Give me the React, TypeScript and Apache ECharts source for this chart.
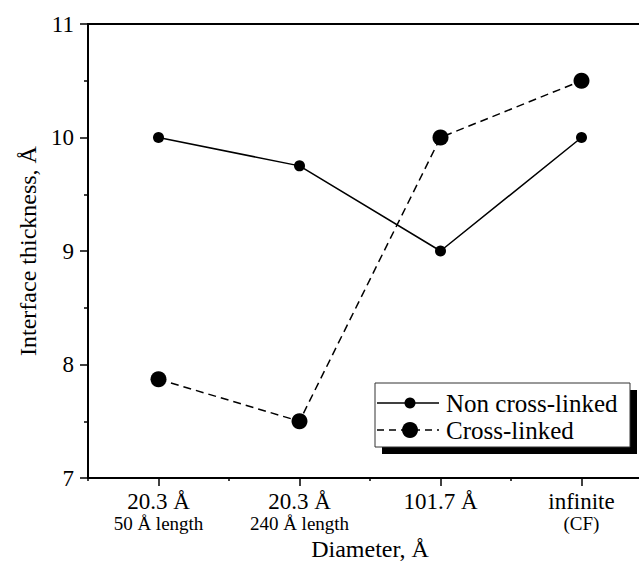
import React, { useEffect, useRef } from "react";
import * as echarts from "echarts";

const categoryMain = ["20.3 Å", "20.3 Å", "101.7 Å", "infinite"];
const categorySub = ["50 Å length", "240 Å length", "", "(CF)"];
const nonCrossLinked = [10, 9.75, 9, 10];
const crossLinked = [7.87, 7.5, 10, 10.5];
const yTicks = [7, 8, 9, 10, 11];
const seriesNames = ["Non cross-linked", "Cross-linked"];
const xAxisName = "Diameter, Å";
const yAxisName = "Interface thickness, Å";

const FONT = "'Liberation Serif', 'Times New Roman', serif";

export default function App() {
  const ref = useRef<HTMLDivElement>(null);

  useEffect(() => {
    if (!ref.current) return;
    const chart = echarts.init(ref.current, undefined, { renderer: "svg" });
    const categories = categoryMain.map((m, i) =>
      categorySub[i] ? `${m}\n${categorySub[i]}` : m
    );

    const legendRows = [
      { name: seriesNames[0], dash: null as number[] | null, r: 5.5, y: 403 },
      { name: seriesNames[1], dash: [7, 5], r: 8, y: 430 },
    ];

    const legendGraphics: any[] = [
      {
        type: "rect",
        shape: { x: 382, y: 390, width: 255, height: 64 },
        style: { fill: "#000" },
        z: 100,
      },
      {
        type: "rect",
        shape: { x: 375, y: 383, width: 255, height: 64 },
        style: { fill: "#fff", stroke: "#333", lineWidth: 1 },
        z: 101,
      },
    ];
    legendRows.forEach((row) => {
      legendGraphics.push({
        type: "line",
        shape: { x1: 377, y1: row.y, x2: 439, y2: row.y },
        style: {
          stroke: "#000",
          lineWidth: 1.5,
          lineDash: row.dash || undefined,
        },
        z: 102,
      });
      legendGraphics.push({
        type: "circle",
        shape: { cx: 410, cy: row.y, r: row.r },
        style: { fill: "#000" },
        z: 103,
      });
      legendGraphics.push({
        type: "text",
        x: 446,
        y: row.y,
        style: {
          text: row.name,
          fontSize: 25,
          fontFamily: FONT,
          fill: "#000",
          align: "left",
          verticalAlign: "middle",
        },
        z: 103,
      });
    });

    chart.setOption({
      animation: false,
      backgroundColor: "#fff",
      grid: {
        left: 88,
        right: -13,
        top: 24,
        bottom: 86,
        containLabel: false,
        outerBoundsMode: "none",
        show: true,
        borderColor: "#000",
        borderWidth: 2,
      },
      xAxis: [
        {
          type: "category",
          data: categories,
          boundaryGap: true,
          position: "bottom",
          axisLine: { show: true, lineStyle: { color: "#000", width: 2 } },
          axisTick: {
            show: true,
            alignWithLabel: true,
            length: 8,
            lineStyle: { color: "#000", width: 1.5 },
          },
          axisLabel: {
            interval: 0,
            margin: 12,
            color: "#000",
            fontFamily: FONT,
            formatter: (_v: string, i: number) =>
              `{a|${categoryMain[i]}}` +
              (categorySub[i] ? `\n{b|${categorySub[i]}}` : ""),
            rich: {
              a: { fontSize: 23, lineHeight: 23, fontFamily: FONT, color: "#000" },
              b: { fontSize: 19, lineHeight: 20, fontFamily: FONT, color: "#000" },
            },
          },
          splitLine: { show: false },
          name: xAxisName,
          nameLocation: "middle",
          nameGap: 56,
          nameTextStyle: { fontSize: 24, fontFamily: FONT, color: "#000" },
        },
        {
          type: "category",
          data: categories,
          boundaryGap: true,
          position: "bottom",
          axisLine: { show: false },
          axisTick: {
            show: true,
            alignWithLabel: false,
            interval: 0,
            length: 3,
            lineStyle: { color: "#000", width: 1.5 },
          },
          axisLabel: { show: false },
          splitLine: { show: false },
        },
      ],
      yAxis: {
        type: "value",
        min: yTicks[0],
        max: yTicks[yTicks.length - 1],
        interval: 1,
        axisLine: { show: true, lineStyle: { color: "#000", width: 2 } },
        axisTick: {
          show: true,
          inside: false,
          length: 8,
          lineStyle: { color: "#000", width: 1.5 },
        },
        minorTick: {
          show: true,
          splitNumber: 2,
          length: 4,
          lineStyle: { color: "#000", width: 1.5 },
        },
        axisLabel: {
          margin: 14,
          fontSize: 23,
          fontFamily: FONT,
          color: "#000",
        },
        splitLine: { show: false },
        name: yAxisName,
        nameLocation: "middle",
        nameGap: 44,
        nameTextStyle: { fontSize: 24, fontFamily: FONT, color: "#000" },
      },
      series: [
        {
          name: seriesNames[0],
          type: "line",
          xAxisIndex: 0,
          data: nonCrossLinked,
          symbol: "circle",
          symbolSize: 11,
          itemStyle: { color: "#000" },
          lineStyle: { color: "#000", width: 1.5 },
          z: 3,
        },
        {
          name: seriesNames[1],
          type: "line",
          xAxisIndex: 0,
          data: crossLinked,
          symbol: "circle",
          symbolSize: 16,
          itemStyle: { color: "#000" },
          lineStyle: { color: "#000", width: 1.5, type: [8, 5] },
          z: 4,
        },
      ],
      graphic: legendGraphics,
    });

    return () => chart.dispose();
  }, []);

  return (
    <div
      ref={ref}
      style={{ position: "fixed", left: 0, top: 0, width: 639, height: 564 }}
    />
  );
}
